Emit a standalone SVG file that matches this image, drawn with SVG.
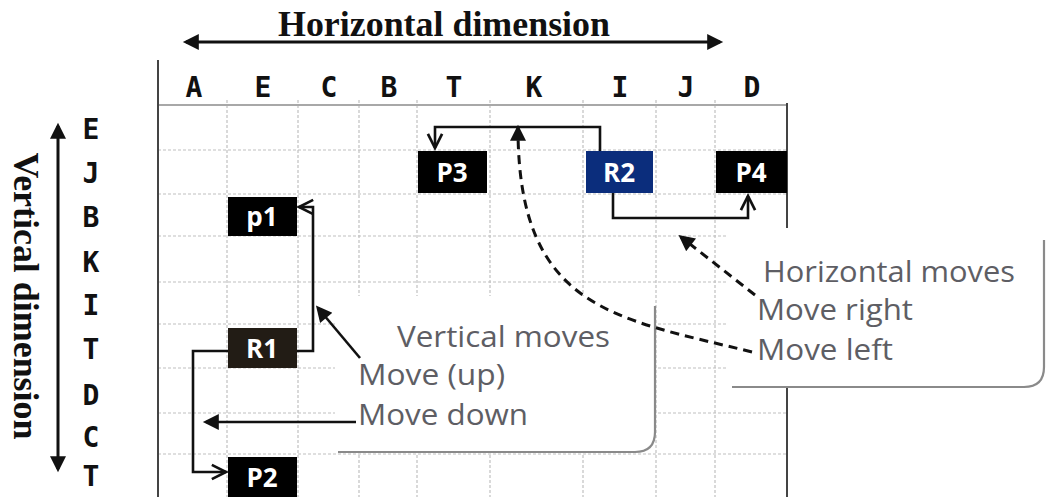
<svg xmlns="http://www.w3.org/2000/svg" width="1046" height="497" viewBox="0 0 1046 497">
  <style>
    .dim { font-family: "Liberation Serif", "Times New Roman", serif; font-weight: bold; font-size: 35px; fill: #111; }
    .axis { font-family: "DejaVu Sans Mono", "Liberation Mono", monospace; font-weight: bold; font-size: 28px; fill: #111; text-anchor: middle; }
    .grid { stroke: #c0c0c0; stroke-width: 1.2; stroke-dasharray: 3 2; fill: none; }
    .node text { font-family: "Open Sans", "Liberation Sans", sans-serif; font-weight: bold; font-size: 26px; fill: #fff; text-anchor: middle; }
    .conn { stroke: #111; stroke-width: 2.6; fill: none; }
    .dash { stroke: #111; stroke-width: 3; fill: none; stroke-dasharray: 9 6; }
    .note { font-family: "Open Sans", "Liberation Sans", sans-serif; font-size: 29px; fill: #5e5e64; }
    .edge { stroke: #8a8a8a; stroke-width: 2.2; fill: none; }
  </style>
  <defs>
    <marker id="solid" viewBox="0 0 10 10" refX="8" refY="5" markerWidth="18" markerHeight="16" markerUnits="userSpaceOnUse" orient="auto-start-reverse">
      <path d="M0,0 L10,5 L0,10 z" fill="#111"/>
    </marker>
    <marker id="small" viewBox="0 0 10 10" refX="8" refY="5" markerWidth="18" markerHeight="16" markerUnits="userSpaceOnUse" orient="auto">
      <path d="M0,0 L10,5 L0,10 z" fill="#111"/>
    </marker>
    <marker id="open" viewBox="0 0 12 12" refX="11" refY="6" markerWidth="17" markerHeight="20" markerUnits="userSpaceOnUse" orient="auto" overflow="visible">
      <path d="M1,1 L11,6 L1,11" fill="none" stroke="#111" stroke-width="1.9"/>
    </marker>
  </defs>

  <rect width="1046" height="497" fill="#fff"/>

  <!-- axis titles and arrows -->
  <g id="axes">
    <text class="dim" x="444" y="36" text-anchor="middle" textLength="332" lengthAdjust="spacingAndGlyphs">Horizontal dimension</text>
    <line x1="186" y1="42" x2="720" y2="42" stroke="#111" stroke-width="3" marker-start="url(#solid)" marker-end="url(#solid)"/>
    <text class="dim" transform="translate(14,296) rotate(90)" text-anchor="middle" textLength="287" lengthAdjust="spacingAndGlyphs">Vertical dimension</text>
    <line x1="58" y1="126" x2="58" y2="469" stroke="#111" stroke-width="3" marker-start="url(#solid)" marker-end="url(#solid)"/>
  </g>

  <!-- column and row letters -->
  <g id="labels">
    <text class="axis" x="194" y="97">A</text>
    <text class="axis" x="263" y="97">E</text>
    <text class="axis" x="329" y="97">C</text>
    <text class="axis" x="389" y="97">B</text>
    <text class="axis" x="454" y="97">T</text>
    <text class="axis" x="534" y="97">K</text>
    <text class="axis" x="620" y="97">I</text>
    <text class="axis" x="686" y="97">J</text>
    <text class="axis" x="752" y="97">D</text>

    <text class="axis" x="91" y="139">E</text>
    <text class="axis" x="91" y="183">J</text>
    <text class="axis" x="91" y="227">B</text>
    <text class="axis" x="91" y="272">K</text>
    <text class="axis" x="91" y="315">I</text>
    <text class="axis" x="91" y="359">T</text>
    <text class="axis" x="91" y="405">D</text>
    <text class="axis" x="91" y="447">C</text>
    <text class="axis" x="91" y="486">T</text>
  </g>

  <!-- grid -->
  <g id="grid">
    <path class="grid" d="M227,100 V497 M298,100 V497 M359,100 V497 M417,100 V497 M490,100 V497 M583,100 V497 M656,100 V497 M715,100 V497"/>
    <path class="grid" d="M158,150 H787 M158,194 H787 M158,236 H787 M158,282 H787 M158,324 H787 M158,368 H787 M158,413 H787 M158,454 H787"/>
    <line x1="158" y1="105" x2="787" y2="105" stroke="#a8a8a8" stroke-width="2"/>
    <line x1="158" y1="60" x2="158" y2="497" stroke="#444" stroke-width="2"/>
    <line x1="787" y1="103" x2="787" y2="497" stroke="#444" stroke-width="2"/>
  </g>

  <!-- callout boxes -->
  <g id="callout-vertical">
    <path d="M335,296 H655 V432 Q655,452 635,452 H345 Q335,452 335,442 Z" fill="#fff"/>
    <path class="edge" d="M655,306 V432 Q655,452 635,452 H338"/>
  </g>
  <g id="callout-horizontal">
    <path d="M728,228 H1030 Q1044,228 1044,245 V367 Q1044,387 1024,387 H738 Q728,387 728,377 Z" fill="#fff"/>
    <path class="edge" d="M1044,240 V367 Q1044,387 1024,387 H732"/>
  </g>

  <!-- nodes -->
  <g id="p1" class="node">
    <rect x="228" y="197" width="69" height="39" fill="#000"/>
    <text x="262" y="226">p1</text>
  </g>
  <g id="R1" class="node">
    <rect x="228" y="328" width="69" height="40" fill="#221c15"/>
    <text x="262" y="358">R1</text>
  </g>
  <g id="P2" class="node">
    <rect x="228" y="457" width="69" height="40" fill="#000"/>
    <text x="262" y="487">P2</text>
  </g>
  <g id="P3" class="node">
    <rect x="418" y="151" width="69" height="42" fill="#000"/>
    <text x="452" y="182">P3</text>
  </g>
  <g id="R2" class="node">
    <rect x="586" y="151" width="67" height="42" fill="#0b2d7c"/>
    <text x="619" y="182">R2</text>
  </g>
  <g id="P4" class="node">
    <rect x="716" y="151" width="71" height="42" fill="#000"/>
    <text x="751" y="182">P4</text>
  </g>

  <!-- connectors -->
  <g id="connectors">
    <path class="conn" d="M297,351 H313 V207 H299" marker-end="url(#open)"/>
    <path class="conn" d="M228,351 H193 V472 H226" marker-end="url(#open)"/>
    <path class="conn" d="M600,151 V127 H435 V148" marker-end="url(#open)"/>
    <path class="conn" d="M613,193 V218 H748 V196" marker-end="url(#open)"/>

    <path class="conn" d="M360,358 L318,308" marker-end="url(#small)"/>
    <path class="conn" d="M356,422 H206" marker-end="url(#small)"/>
    <path class="dash" d="M755,295 L681,237" marker-end="url(#small)"/>
    <path class="dash" d="M752,352 C615,318 518,310 518,128" marker-end="url(#small)"/>
  </g>

  <!-- callout texts -->
  <g id="notes">
    <text class="note" x="397" y="347" textLength="213" lengthAdjust="spacingAndGlyphs">Vertical moves</text>
    <text class="note" x="358" y="385" textLength="147" lengthAdjust="spacingAndGlyphs">Move (up)</text>
    <text class="note" x="358" y="425" textLength="170" lengthAdjust="spacingAndGlyphs">Move down</text>
    <text class="note" x="763" y="282" textLength="252" lengthAdjust="spacingAndGlyphs">Horizontal moves</text>
    <text class="note" x="757" y="320" textLength="156" lengthAdjust="spacingAndGlyphs">Move right</text>
    <text class="note" x="757" y="360" textLength="136" lengthAdjust="spacingAndGlyphs">Move left</text>
  </g>
</svg>
